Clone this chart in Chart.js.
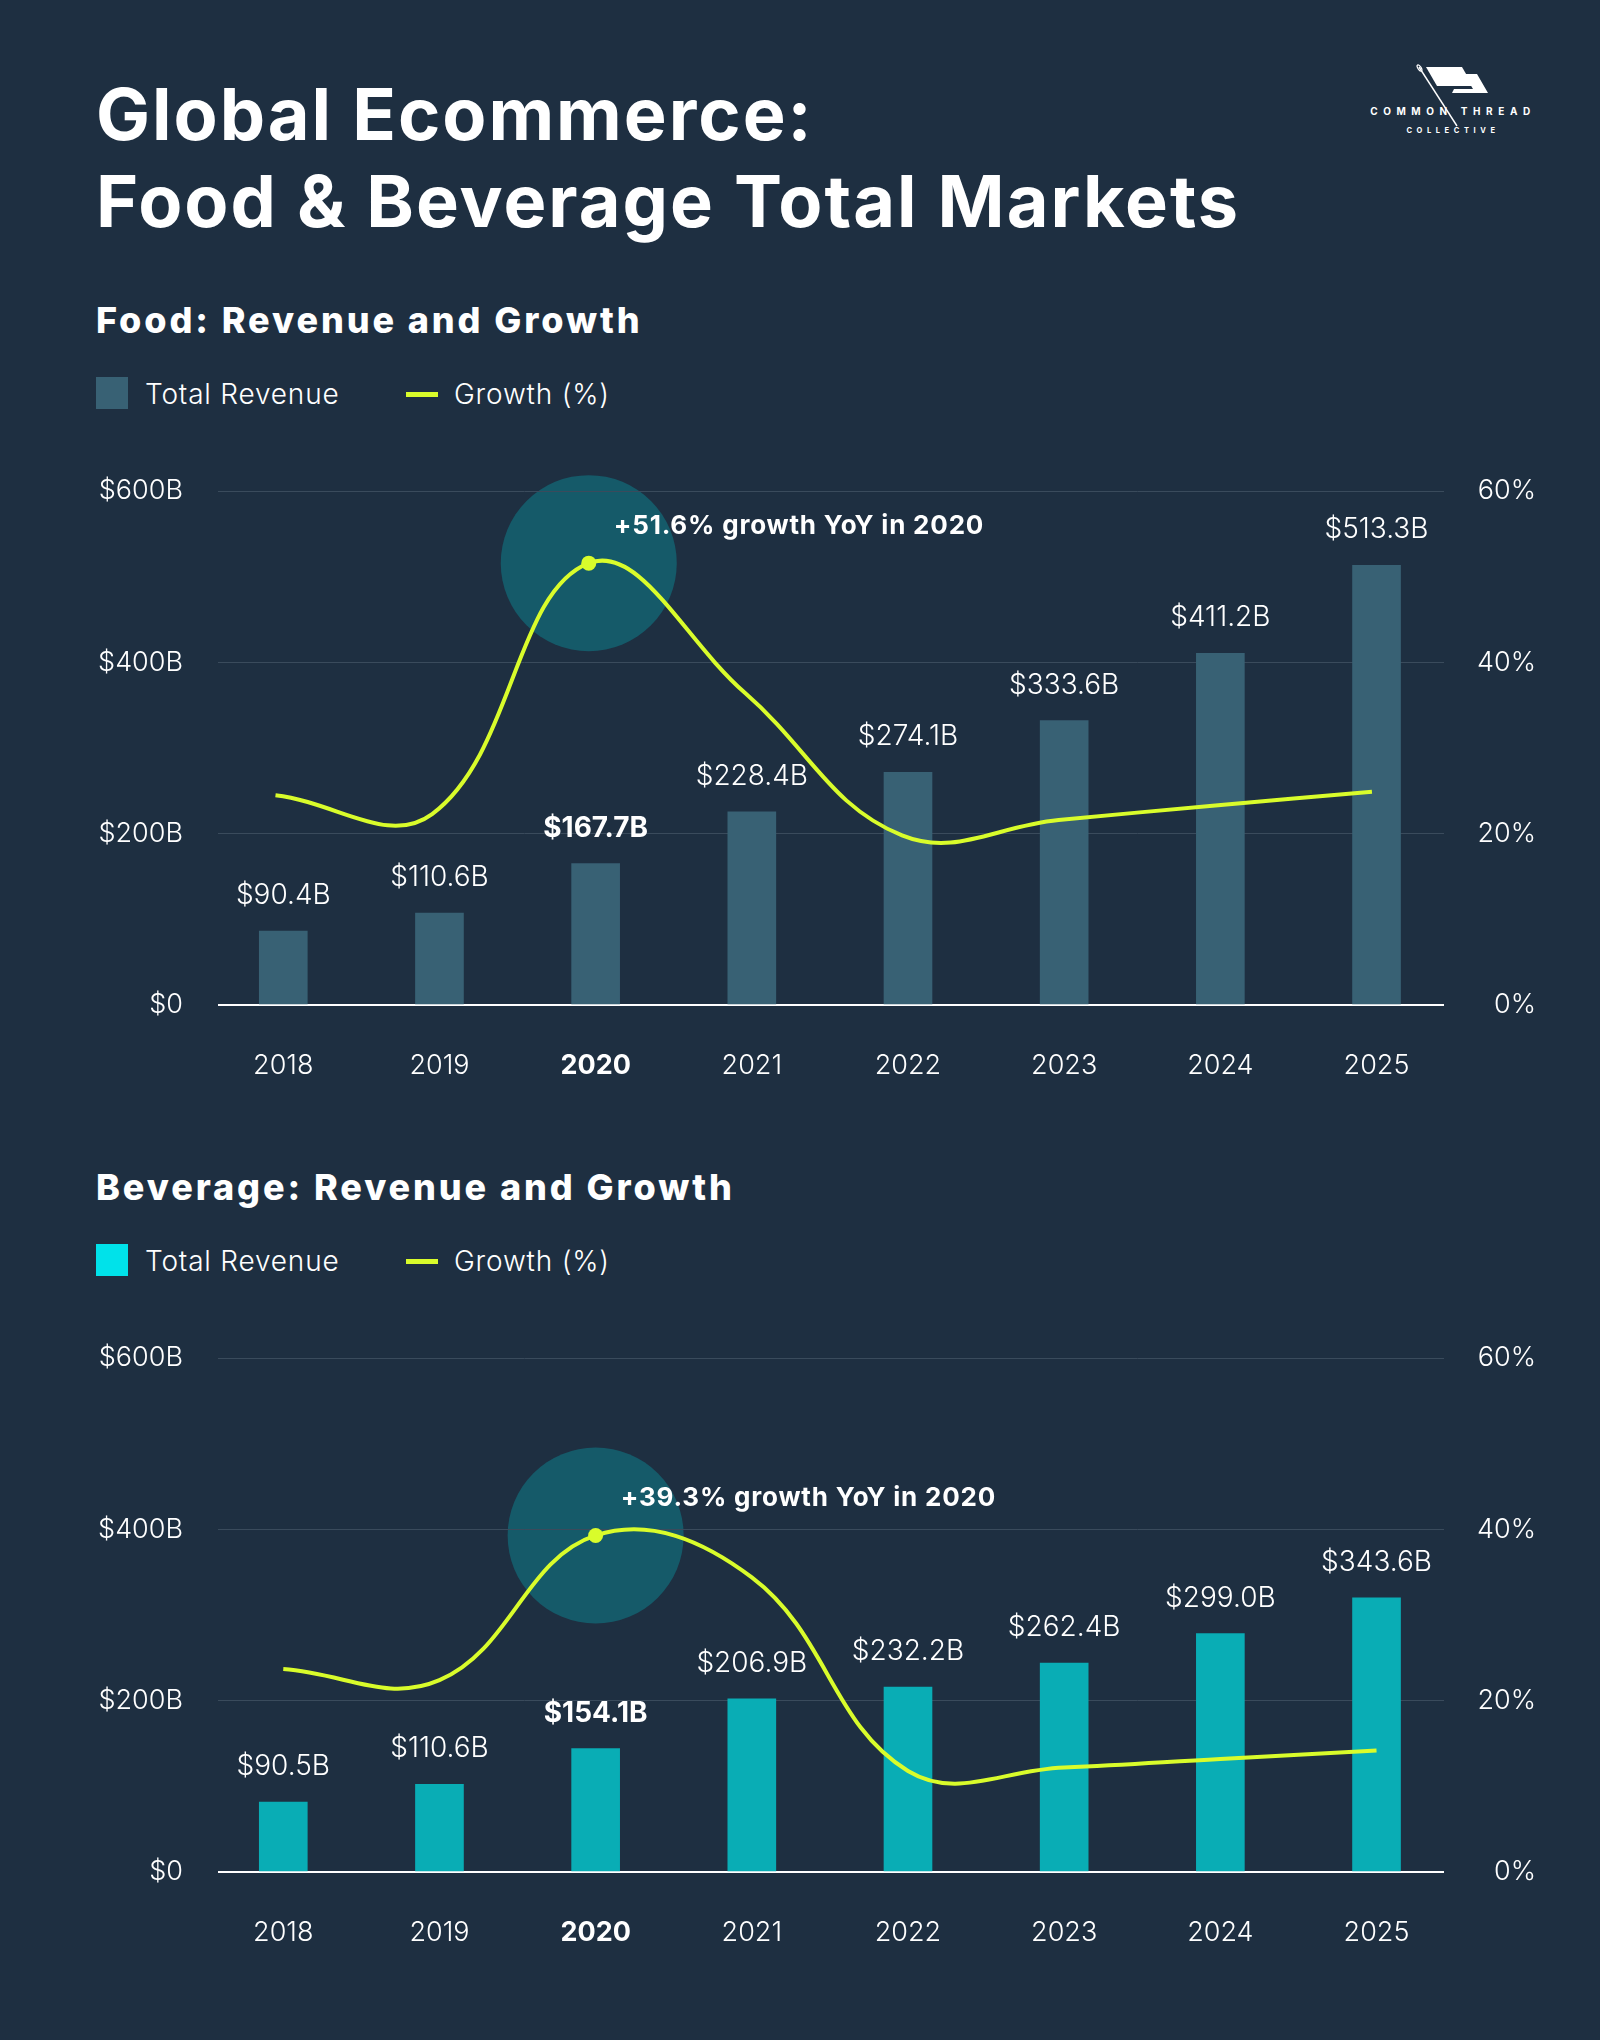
<!DOCTYPE html>
<html>
<head>
<meta charset="utf-8">
<script src="https://cdn.jsdelivr.net/npm/chart.js@4.4.1/dist/chart.umd.min.js"></script>
<style>
  html, body { margin:0; padding:0; background:#1e2f41; }
  body { width:1600px; height:2040px; position:relative; overflow:hidden; font-family: Inter, "Noto Sans", sans-serif; color:#fff; }
  .title { position:absolute; left:96px; font-size:72px; line-height:72px; font-weight:700; white-space:nowrap; letter-spacing:2px; }
  .sub { position:absolute; left:96px; font-size:36px; line-height:36px; font-weight:800; white-space:nowrap; letter-spacing:2.9px; }
  .legend { position:absolute; left:0; width:800px; height:40px; }
  .legend .sq { position:absolute; left:96px; top:0; width:32px; height:32px; }
  .legend .ln { position:absolute; left:406px; top:15px; width:32px; height:5px; background:#d9fc2b; }
  .legend .tx { position:absolute; top:3px; font-size:28px; line-height:28px; font-weight:300; white-space:nowrap; letter-spacing:0.8px; }
  canvas { position:absolute; left:0; }
  .logo1 { position:absolute; left:1360px; top:106px; width:186px; text-align:center; font-size:10px; line-height:10px; font-weight:700; letter-spacing:5.6px; white-space:nowrap; }
  .logo2 { position:absolute; left:1360px; top:127px; width:186px; text-align:center; font-size:7.5px; line-height:8px; font-weight:700; letter-spacing:4.6px; white-space:nowrap; }
</style>
</head>
<body>
<div class="title" style="top:78px">Global Ecommerce:</div>
<div class="title" style="top:165px">Food &amp; Beverage Total Markets</div>

<svg style="position:absolute;left:1400px;top:55px" width="110" height="80" viewBox="0 0 110 80">
  <polygon points="26,12 62,12 73,31 37,31" fill="#ffffff"/>
  <polygon points="64,19 77,19 88,38 52,38 54,34 73,34" fill="#ffffff"/>
  <line x1="19" y1="12" x2="57" y2="71" stroke="#ffffff" stroke-width="1.4"/>
  <ellipse cx="19.5" cy="13" rx="1.6" ry="3.6" transform="rotate(-33 19.5 13)" fill="none" stroke="#ffffff" stroke-width="1.2"/>
</svg>
<div class="logo1">COMMON THREAD</div>
<div class="logo2">COLLECTIVE</div>

<div class="sub" style="top:302px">Food: Revenue and Growth</div>
<div class="legend" style="top:377px">
  <div class="sq" style="background:#386174"></div>
  <div class="tx" style="left:145px">Total Revenue</div>
  <div class="ln"></div>
  <div class="tx" style="left:454px">Growth (%)</div>
</div>
<canvas id="foodChart" width="1600" height="680" style="top:440px"></canvas>

<div class="sub" style="top:1169px">Beverage: Revenue and Growth</div>
<div class="legend" style="top:1244px">
  <div class="sq" style="background:#00e2ea"></div>
  <div class="tx" style="left:145px">Total Revenue</div>
  <div class="ln"></div>
  <div class="tx" style="left:454px">Growth (%)</div>
</div>
<canvas id="bevChart" width="1600" height="680" style="top:1307px"></canvas>

<script>
// ---------- DATA ----------
const years = ['2018', '2019', '2020', '2021', '2022', '2023', '2024', '2025'];

const foodRevenue = [86.3, 107.2, 165.1, 225.5, 271.8, 332.2, 410.8, 513.3];
const foodRevenueLabels = ['$90.4B', '$110.6B', '$167.7B', '$228.4B', '$274.1B', '$333.6B', '$411.2B', '$513.3B'];
const foodGrowth = [24.5, 22.3, 51.6, 36.4, 19.8, 21.6, 23.3, 24.9];
const foodNote = '+51.6% growth YoY in 2020';

const bevRevenue = [81.7, 102.4, 144.2, 202.2, 216.0, 243.9, 278.5, 320.2];
const bevRevenueLabels = ['$90.5B', '$110.6B', '$154.1B', '$206.9B', '$232.2B', '$262.4B', '$299.0B', '$343.6B'];
const bevGrowth = [23.7, 22.4, 39.3, 34.4, 11.8, 12.2, 13.2, 14.2];
const bevNote = '+39.3% growth YoY in 2020';

const revenueTicks = ['$0', '$200B', '$400B', '$600B'];
const growthTicks = ['0%', '20%', '40%', '60%'];
const highlightIndex = 2;

// ---------- STYLE ----------
const FONT = 'Inter, "Noto Sans", sans-serif';
const LINE_COLOR = '#d9fc2b';
Chart.defaults.font.family = FONT;
Chart.defaults.color = '#ffffff';

const highlightPlugin = {
  id: 'highlight',
  beforeDraw(chart, args, opts) {
    const pt = chart.getDatasetMeta(1).data[highlightIndex];
    const ctx = chart.ctx;
    ctx.save();
    ctx.fillStyle = '#155a69';
    ctx.beginPath();
    ctx.arc(pt.x, pt.y, 88, 0, Math.PI * 2);
    ctx.fill();
    ctx.restore();
  },
  afterDatasetsDraw(chart, args, opts) {
    const ctx = chart.ctx;
    const bars = chart.getDatasetMeta(0).data;
    ctx.save();
    ctx.fillStyle = '#ffffff';
    ctx.textAlign = 'center';
    ctx.textBaseline = 'alphabetic';
    bars.forEach((b, i) => {
      ctx.font = (i === highlightIndex ? '700 ' : '300 ') + '28px ' + FONT;
      ctx.fillText(opts.labels[i], b.x, b.y - 27);
    });
    const pt = chart.getDatasetMeta(1).data[highlightIndex];
    ctx.textAlign = 'left';
    ctx.font = '700 26px ' + FONT;
    if ('letterSpacing' in ctx) ctx.letterSpacing = '0.8px';
    ctx.fillText(opts.note, pt.x + 25, pt.y - 29);
    ctx.restore();
  }
};

function makeChart(id, revenue, labels, growth, barColor, note, lineRange) {
  const scales = {
    x: {
      type: 'linear', min: -0.418, max: 7.432, offset: false,
      grid: { display: false, offset: false }, border: { display: false },
      afterFit: s => { s.height = 115; },
      ticks: {
        stepSize: 1, includeBounds: false, autoSkip: false, maxRotation: 0, padding: 37,
        color: '#ffffff',
        font: c => ({ size: 27, weight: (c.tick && c.tick.value === highlightIndex) ? '700' : '300' }),
        callback: v => Number.isInteger(v) && years[v] !== undefined ? years[v] : ''
      }
    },
    x2: { type: 'linear', display: false, offset: false, min: lineRange[0], max: lineRange[1] },
    y: {
      position: 'left', min: 0, max: 600,
      border: { display: false },
      afterFit: s => { s.width = 218; },
      grid: {
        drawTicks: false,
        color: c => c.tick.value === 0 ? '#ffffff' : '#3a4b5c',
        lineWidth: c => c.tick.value === 0 ? 2 : 1
      },
      ticks: {
        stepSize: 200, padding: 35, color: '#ffffff',
        font: { size: 27, weight: '300' },
        callback: v => revenueTicks[v / 200]
      }
    },
    y1: {
      position: 'right', min: 0, max: 60,
      border: { display: false },
      grid: { display: false, drawTicks: false },
      afterFit: s => { s.width = 92; },
      ticks: {
        stepSize: 20, crossAlign: 'far', color: '#ffffff',
        font: { size: 27, weight: '300' },
        callback: v => growthTicks[v / 20]
      }
    }
  };
  return new Chart(document.getElementById(id), {
    data: {
      datasets: [
        {
          type: 'bar', label: 'Total Revenue', order: 2,
          data: revenue.map((v, i) => ({ x: i, y: v })),
          backgroundColor: barColor, barThickness: 48, grouped: false,
          xAxisID: 'x', yAxisID: 'y'
        },
        {
          type: 'line', label: 'Growth (%)', order: 1,
          data: growth.map((v, i) => ({ x: i, y: v })),
          borderColor: LINE_COLOR, borderWidth: 4, tension: 0.4,
          pointRadius: c => c.dataIndex === highlightIndex ? 7.5 : 0,
          pointBackgroundColor: LINE_COLOR, pointBorderWidth: 0,
          xAxisID: 'x2', yAxisID: 'y1'
        }
      ]
    },
    options: {
      responsive: false, animation: false, devicePixelRatio: 1, events: [],
      layout: { padding: { top: 47, right: 64, left: 0, bottom: 0 } },
      plugins: {
        legend: { display: false }, tooltip: { enabled: false },
        highlight: { labels: labels, note: note }
      },
      scales: scales
    },
    plugins: [highlightPlugin]
  });
}

makeChart('foodChart', foodRevenue, foodRevenueLabels, foodGrowth, '#386174', foodNote, [-0.367, 7.46]);
makeChart('bevChart', bevRevenue, bevRevenueLabels, bevGrowth, '#09adb5', bevNote, [-0.418, 7.432]);
</script>
</body>
</html>
